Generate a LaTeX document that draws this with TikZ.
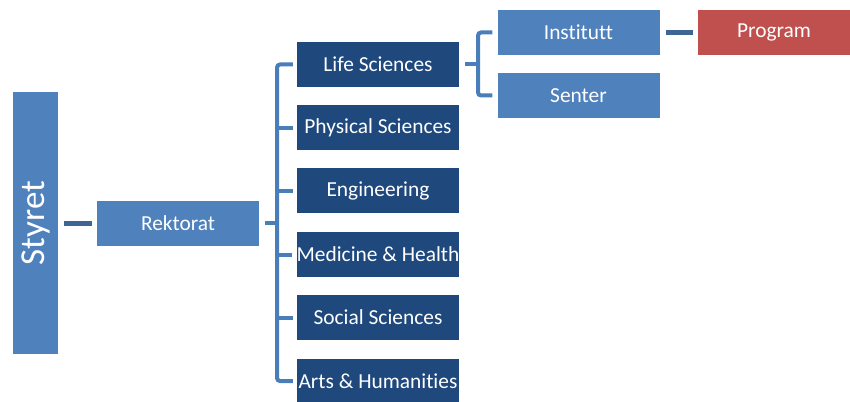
\documentclass[tikz,border=0pt]{standalone}
\usepackage{fontspec}
\setmainfont{Carlito}[Ligatures={NoCommon}]
\definecolor{lightblue}{HTML}{4F81BD}
\definecolor{navy}{HTML}{1F497D}
\definecolor{progred}{HTML}{C0504D}
\definecolor{linedark}{HTML}{3F6593}
\definecolor{lineblue}{HTML}{4A7EBB}
\begin{document}
\begin{tikzpicture}[x=1pt,y=-1pt,
  box/.style={rectangle, inner sep=0pt, minimum width=162pt, minimum height=45pt, text=white, font=\fontsize{21.4}{24}\selectfont},
  lbox/.style={box, fill=lightblue},
  nbox/.style={box, fill=navy},
  rbox/.style={box, fill=progred, minimum width=152pt},
  conn/.style={draw=linedark, line width=5pt},
  br/.style={draw=lineblue, line width=4pt, rounded corners=3pt}]
\useasboundingbox (0,0) rectangle (850,401);
\node[rectangle, fill=lightblue, minimum width=45pt, minimum height=262pt, inner sep=0pt] (styret) at (35.5,223) {};
\node[rotate=90, text=white, font=\fontsize{35}{40}\selectfont] (styrettext) at (styret.center) {Styret};
\node[lbox] (rek) at (178,223) {Rektorat};
\node[nbox] (life) at (378,64.5) {Life Sciences};
\node[nbox] (phys) at (378,127.5) {Physical Sciences};
\node[nbox] (eng) at (378,190.5) {Engineering};
\node[nbox] (med) at (378,254.5) {Medicine \& Health};
\node[nbox] (soc) at (378,317.5) {Social Sciences};
\node[nbox] (arts) at (378,381) {Arts \& Humanities};
\node[lbox] (inst) at (578.5,32.5) {Institutt};
\node[lbox] (sent) at (578.5,95.5) {Senter};
\node[rbox] (prog) at (774,32.5) {Program};
\coordinate (bx) at (277,223);
\coordinate (bx2) at (478,64.5);
% Styret - Rektorat
\draw[conn] ([xshift=6pt]styret.east) -- ([xshift=-5pt]rek.west);
% Institutt - Program
\draw[conn] ([xshift=6pt]inst.east) -- ([xshift=-5pt]prog.west);
% Rektorat bracket
\draw[br] ([xshift=6pt]rek.east) -- (bx);
\draw[br] ([xshift=-4pt]life.west) -- (life.west -| bx) -- (arts.west -| bx) -- ([xshift=-4pt]arts.west);
\foreach \n in {phys,eng,med,soc} {
  \draw[br] (\n.west -| bx) -- ([xshift=-4pt]\n.west);
}
% Life Sciences bracket
\draw[br] ([xshift=6pt]life.east) -- (bx2);
\draw[br] ([xshift=-5pt]inst.west) -- (inst.west -| bx2) -- (sent.west -| bx2) -- ([xshift=-5pt]sent.west);
\end{tikzpicture}
\end{document}
